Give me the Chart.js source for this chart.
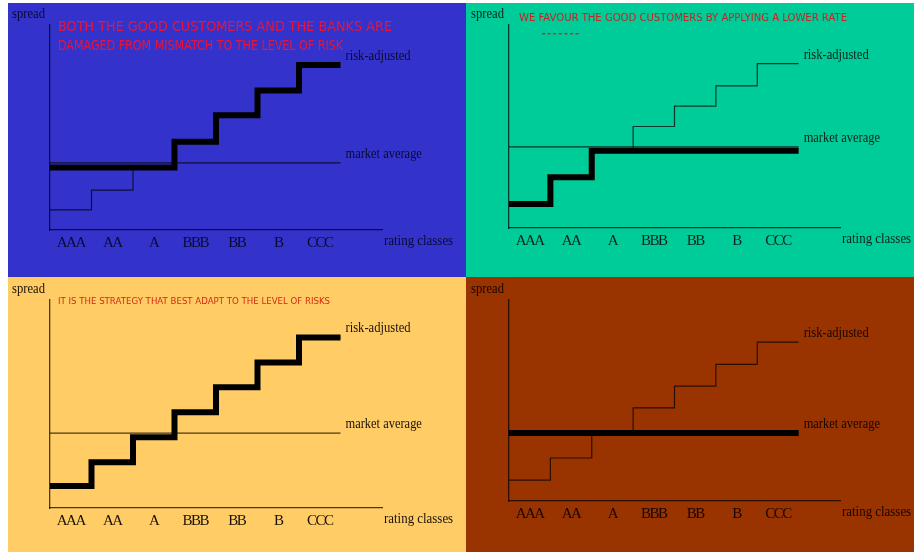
<!DOCTYPE html>
<html><head><meta charset="utf-8">
<script src="https://cdn.jsdelivr.net/npm/chart.js@4"></script>
<style>
html,body{margin:0;padding:0;background:#fff;width:914px;height:552px;overflow:hidden}
.panel{position:absolute}
canvas{display:block}
</style></head><body>
<div class="panel" style="left:8px;top:3px;width:458px;height:274px;background:#3333cc"><canvas id="c1" width="458" height="274"></canvas></div>
<div class="panel" style="left:466px;top:3px;width:448px;height:274px;background:#00cc99"><canvas id="c2" width="448" height="274"></canvas></div>
<div class="panel" style="left:8px;top:277px;width:458px;height:275px;background:#ffcc66"><canvas id="c3" width="458" height="275"></canvas></div>
<div class="panel" style="left:466px;top:277px;width:448px;height:275px;background:#993300"><canvas id="c4" width="448" height="275"></canvas></div>
<script>
// ---- data ----
const ratingClasses = ["AAA", "AA", "A", "BBB", "BB", "B", "CCC"];
const yAxisTitle = "spread";
const xAxisTitle = "rating classes";
const riskLabel = "risk-adjusted";
const marketLabel = "market average";

// top-left panel
const tlRisk    = [0.98, 1.95, 3.05, 4.3, 5.6, 6.8, 8.05];
const tlMarket  = [3.27, 3.27, 3.27, 3.27, 3.27, 3.27, 3.27];
const tlPricing = [3.05, 3.05, 3.05, 4.3, 5.6, 6.8, 8.05];
const tlNote = ["BOTH THE GOOD CUSTOMERS AND THE BANKS ARE", "DAMAGED FROM MISMATCH TO THE LEVEL OF RISK"];

// top-right panel
const trRisk    = [1.18, 2.5, 3.8, 5.0, 6.0, 7.0, 8.1];
const trMarket  = [4.0, 4.0, 4.0, 4.0, 4.0, 4.0, 4.0];
const trPricing = [1.18, 2.5, 3.8, 3.8, 3.8, 3.8, 3.8];
const trNote = ["WE FAVOUR THE GOOD CUSTOMERS BY APPLYING A LOWER RATE"];

// bottom-left panel
const blRisk    = [1.06, 2.2, 3.4, 4.6, 5.8, 7.0, 8.2];
const blMarket  = [3.6, 3.6, 3.6, 3.6, 3.6, 3.6, 3.6];
const blPricing = [1.06, 2.2, 3.4, 4.6, 5.8, 7.0, 8.2];
const blNote = ["IT IS THE STRATEGY THAT BEST ADAPT TO THE LEVEL OF RISKS"];

// bottom-right panel
const brRisk    = [1.04, 2.14, 3.38, 4.63, 5.72, 6.8, 7.9];
const brMarket  = [3.38, 3.38, 3.38, 3.38, 3.38, 3.38, 3.38];
const brPricing = [3.38, 3.38, 3.38, 3.38, 3.38, 3.38, 3.38];
const brNote = [];

// ---- drawing ----
function stepPoints(vals) {
  const pts = vals.map((v, i) => ({x: i, y: v}));
  pts.push({x: vals.length, y: vals[vals.length - 1]});
  return pts;
}

function squishText(ctx, text, x, y, align, font, sx) {
  ctx.save();
  ctx.font = font;
  const w = ctx.measureText(text).width * sx;
  let x0 = x;
  if (align === 'right') x0 = x - w;
  else if (align === 'center') x0 = x - w / 2;
  ctx.translate(x0, y);
  ctx.scale(sx, 1);
  ctx.textAlign = 'left';
  ctx.fillText(text, 0, 0);
  ctx.restore();
}

function fitText(ctx, text, x, y, font, width) {
  ctx.save();
  ctx.font = font;
  const w = ctx.measureText(text).width;
  ctx.translate(x, y);
  ctx.scale(width / w, 1);
  ctx.textAlign = 'left';
  ctx.fillText(text, 0, 0);
  ctx.restore();
}

const annotPlugin = {
  id: 'annot',
  beforeDraw(chart) {
    chart.ctx.letterSpacing = '-1.5px';
  },
  afterDraw(chart, args, o) {
    const {ctx, chartArea: a, scales: {x, y}} = chart;
    ctx.letterSpacing = '0px';
    ctx.save();
    ctx.textBaseline = 'middle';
    ctx.fillStyle = o.textColor;
    const serif = '15px "Liberation Serif", "Times New Roman", serif';
    squishText(ctx, yAxisTitle, a.left - 5, a.top - 11, 'right', serif, 0.84);
    squishText(ctx, xAxisTitle, a.right + 2, a.bottom + 11, 'left', serif, 0.86);
    const xe = x.getPixelForValue(ratingClasses.length) + 5;
    squishText(ctx, riskLabel, xe, y.getPixelForValue(o.risk[o.risk.length - 1]) - 9, 'left', serif, 0.84);
    squishText(ctx, marketLabel, xe, y.getPixelForValue(o.market[o.market.length - 1]) - 9, 'left', serif, 0.83);
    // handwritten notes
    ctx.fillStyle = o.noteColor;
    o.note.forEach((line, i) => {
      fitText(ctx, line, a.left + o.noteDx, a.top + o.noteDy + i * o.noteGap,
        o.noteWeight + ' ' + o.noteSize + 'px "DejaVu Sans", sans-serif', o.noteWidths[i]);
    });
    if (o.dots) {
      for (let i = 0; i < 7; i++) ctx.fillRect(a.left + 33 + i * 5.6, a.top + 8, 3, 1.4);
    }
    ctx.restore();
  }
};

function makePanel(id, risk, market, pricing, geo, note) {
  const thin = 'rgba(0,0,0,0.72)';
  new Chart(document.getElementById(id), {
    type: 'line',
    data: {
      datasets: [
        {data: stepPoints(pricing), borderColor: '#000', borderWidth: 6, stepped: 'before',
         pointRadius: 0, borderJoinStyle: 'miter', borderCapStyle: 'butt', fill: false},
        {data: stepPoints(risk), borderColor: thin, borderWidth: 1.2, stepped: 'before',
         pointRadius: 0, fill: false},
        {data: stepPoints(market), borderColor: thin, borderWidth: 1.2, stepped: 'before',
         pointRadius: 0, fill: false}
      ]
    },
    options: {
      responsive: false,
      animation: false,
      devicePixelRatio: 1,
      layout: {padding: {left: geo.left, top: geo.top, right: geo.right, bottom: 0}},
      scales: {
        x: {
          type: 'linear', min: 0, max: 8,
          grid: {display: false, drawTicks: false},
          border: {display: true, color: thin, width: 1.3},
          afterBuildTicks: s => { s.ticks = ratingClasses.map((c, i) => ({value: i + 0.5})); },
          afterFit: s => { s.height = geo.bottom; },
          ticks: {
            autoSkip: false, maxRotation: 0, padding: 4, color: geo.textColor,
            font: {family: '"Liberation Serif", "Times New Roman", serif', size: 15},
            callback: (v, i) => ratingClasses[i]
          }
        },
        y: {
          type: 'linear', min: 0, max: 10,
          grid: {display: false, drawTicks: false},
          border: {display: true, color: thin, width: 1.3},
          ticks: {display: false},
          afterFit: s => { s.width = 0; }
        }
      },
      plugins: {
        legend: {display: false},
        tooltip: {enabled: false},
        annot: Object.assign({risk, market, textColor: geo.textColor}, note)
      }
    },
    plugins: [annotPlugin]
  });
}

makePanel('c1', tlRisk, tlMarket, tlPricing,
  {left: 42, top: 22, right: 84, bottom: 47, textColor: '#0a0a30'},
  {note: tlNote, noteColor: '#e8143a', noteSize: 14, noteWeight: 'normal', noteDx: 8, noteDy: 2, noteGap: 19, noteWidths: [334, 285], dots: false});
makePanel('c2', trRisk, trMarket, trPricing,
  {left: 43, top: 22, right: 74, bottom: 49, textColor: '#08231a'},
  {note: trNote, noteColor: '#c8221e', noteSize: 11, noteWeight: 'normal', noteDx: 10, noteDy: -7, noteGap: 0, noteWidths: [328], dots: true});
makePanel('c3', blRisk, blMarket, blPricing,
  {left: 42, top: 23, right: 84, bottom: 44, textColor: '#1a1208'},
  {note: blNote, noteColor: '#d42a10', noteSize: 9, noteWeight: 'normal', noteDx: 8, noteDy: 2, noteGap: 0, noteWidths: [272], dots: false});
makePanel('c4', brRisk, brMarket, brPricing,
  {left: 43, top: 23, right: 74, bottom: 51, textColor: '#1a0500'},
  {note: brNote, noteColor: '#c00', noteSize: 10, noteWeight: 'normal', noteDx: 8, noteDy: 2, noteGap: 0, noteWidths: [], dots: false});
</script>
</body></html>
